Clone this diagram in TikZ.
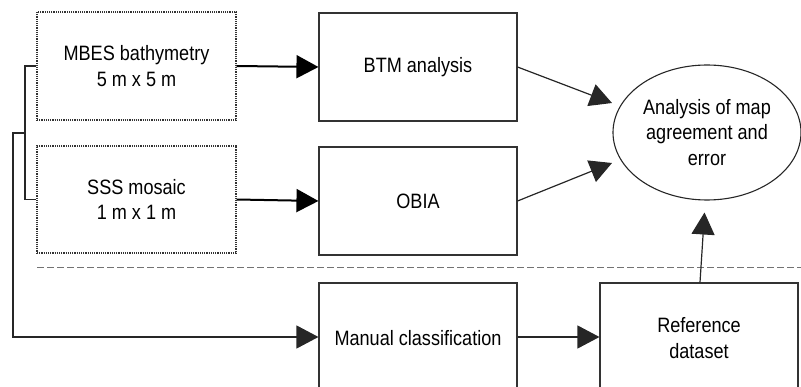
\documentclass[tikz,border=0pt]{standalone}
\usepackage{fontspec}
\setmainfont{Liberation Sans}[FakeStretch=0.87]
\usetikzlibrary{arrows.meta,shapes.geometric,calc}
\begin{document}
\begin{tikzpicture}[x=1pt,y=-1pt,
  every node/.style={font=\fontsize{20.8}{25.5}\selectfont, align=center, text=black},
  solidbox/.style={draw=black!80, line width=1.1pt, rectangle, inner sep=0pt},
  dotbox/.style={draw=black!80, line width=1.2pt, densely dotted, rectangle, inner sep=0pt},
  bigarr/.style={-{Triangle[length=22pt,width=23pt]}, line width=2pt, black},
  thinarr/.style={-{Triangle[length=22pt,width=23pt]}, line width=1.2pt, black!85},
  link/.style={line width=1.2pt, black!85}]
\useasboundingbox (0,0) rectangle (801,387);
% boxes
\node[dotbox, minimum width=199pt, minimum height=108pt] (mbes) at (136.5,66) {MBES bathymetry\\5 m x 5 m};
\node[dotbox, minimum width=199pt, minimum height=107pt] (sss) at (136.5,199.5) {SSS mosaic\\1 m x 1 m};
\node[solidbox, minimum width=198pt, minimum height=108pt] (btm) at (418,67) {BTM analysis};
\node[solidbox, minimum width=198pt, minimum height=108pt] (obia) at (418,201) {OBIA};
\node[solidbox, minimum width=198pt, minimum height=110pt] (man) at (418,338) {Manual classification};
\node[solidbox, minimum width=198pt, minimum height=110pt] (ref) at (699,338) {Reference\\dataset};
\node[draw=black!85, line width=1.1pt, ellipse, inner sep=0pt, minimum width=188pt, minimum height=135pt] (ell) at (707,132.5) {Analysis of map\\agreement and\\error};
% separator
\draw[black!55, line width=1pt, dash pattern=on 7pt off 3pt] (37,268) -- (801,268);
% arrows
\draw[bigarr] (mbes.east) -- (btm.west);
\draw[bigarr] (sss.east) -- (obia.west);
\coordinate (e1) at ($(ell.center)+(-95,-29.5)$);
\coordinate (e2) at ($(ell.center)+(-95,30.5)$);
\coordinate (e3) at ($(ell.center)+(-2.5,80)$);
\draw[thinarr] (btm.east) -- (e1);
\draw[thinarr] (obia.east) -- (e2);
\draw[thinarr] ($(ref.north)+(1,0)$) -- (e3);
\draw[thinarr] (man.east |- 0,337) -- (ref.west |- 0,337);
% bracket
\coordinate (bj) at (25,133);
\draw[link] (mbes.west) -- (bj |- mbes.west) -- (bj |- sss.west) -- (sss.west);
\draw[thinarr] (bj) -- (13,133) -- (13,337) -- (man.west |- 0,337);
\end{tikzpicture}
\end{document}
